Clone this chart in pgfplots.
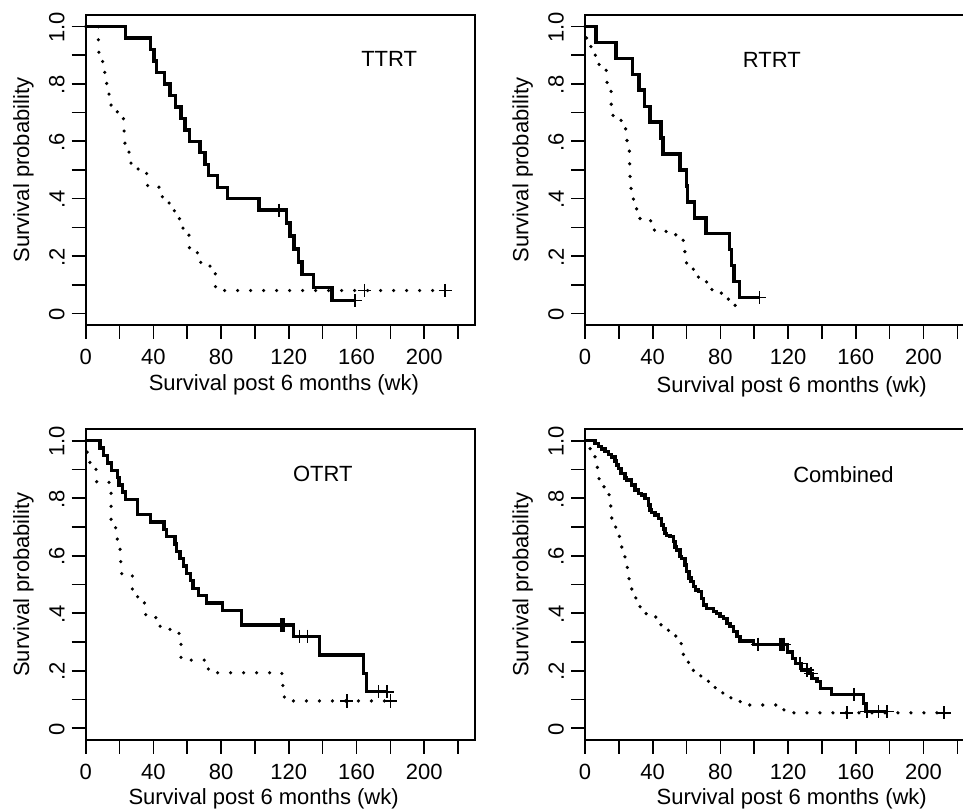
\documentclass[border=0pt]{standalone}
\usepackage{fontspec}
\setmainfont{Liberation Sans}
\usepackage{pgfplots}
\pgfplotsset{compat=1.18}

% one panel = R-style Kaplan-Meier plot, box 0..230 x -0.04..1.04
\pgfplotsset{
  kmpanel/.style={
    scale only axis, width=194.65pt, height=155pt,
    xmin=0, xmax=230, ymin=-0.04, ymax=1.04,
    tick pos=left, tick align=outside,
    major tick length=7pt, minor tick length=7pt,
    tick style={black, line width=0.8pt},
    axis line style={line width=0.8pt},
    xtick={0,40,80,120,160,200}, xticklabels={0,40,80,120,160,200},
    minor xtick={20,60,100,140,180,220},
    ytick={0,0.2,0.4,0.6,0.8,1}, yticklabels={0,.2,.4,.6,.8,1.0},
    minor ytick={0.1,0.3,0.5,0.7,0.9},
    yticklabel style={rotate=90, anchor=south, xshift=-0.5pt},
    xticklabel style={yshift=-1.5pt},
    font=\fontsize{11}{13}\selectfont,
    xlabel={Survival post 6 months (wk)},
    ylabel={Survival probability},
    ylabel style={at={(axis description cs:-0.16,0.5)}, anchor=center},
    clip=false,
    /pgf/number format/assume math mode=true,
  },
  km/.style={const plot, black, line width=1.7pt, mark=none},
  ref/.style={const plot, black, line width=1.8pt, line cap=round, dash pattern=on 0pt off 6.5pt, mark=none},
  cens/.style={only marks, black, mark=+, mark size=3.3pt, mark options={line width=0.8pt, solid}},
}

\begin{document}
\begin{tikzpicture}
\path[use as bounding box] (0,0) rectangle (481.5pt,404.5pt);
\clip (0,0) rectangle (481.5pt,404.5pt);

% ---------------- TTRT
\begin{axis}[kmpanel, at={(42.85pt,242pt)},
  xlabel style={at={(axis description cs:0.509,-0.194)}, anchor=center}]
\addplot[ref] coordinates {
 (0,1.0) (7.5,0.95) (7.6,0.91) (10.0,0.875) (10.8,0.84) (12.4,0.80) (13.8,0.76)
 (15.0,0.72) (18.7,0.70) (22.3,0.675) (22.7,0.63) (23.2,0.59) (25.6,0.555)
 (26.8,0.52) (31.0,0.50) (36.0,0.48) (36.6,0.44) (45.3,0.40) (49.3,0.375)
 (52.4,0.35) (55.4,0.32) (57.5,0.29) (61.0,0.26) (61.3,0.22) (66.0,0.20)
 (68.0,0.165) (76.6,0.125) (76.7,0.08) (212.4,0.08)};
\addplot[cens] coordinates {(164.7,0.08) (212.4,0.08)};
\addplot[km] coordinates {
 (0,1.0) (23.6,0.96) (38.4,0.92) (40.4,0.88) (42.0,0.84) (46.5,0.80) (49.8,0.76)
 (53.2,0.72) (56.3,0.68) (58.7,0.64) (61.3,0.60) (67.6,0.56) (70.5,0.52)
 (72.7,0.48) (78.0,0.44) (83.9,0.40) (102.5,0.36) (118.8,0.315) (120.8,0.27)
 (123.1,0.225) (125.7,0.18) (127.7,0.135) (134.6,0.09) (145.4,0.045) (159.2,0.045)};
\addplot[cens] coordinates {(114.3,0.36) (159.2,0.045)};
\node at (axis cs:179.3,0.886) {TTRT};
\end{axis}

% ---------------- RTRT
\begin{axis}[kmpanel, at={(292.5pt,242pt)},
  xlabel style={at={(axis description cs:0.531,-0.199)}, anchor=center}]
\addplot[ref] coordinates {
 (0,1.0) (0.5,0.96) (3.0,0.93) (6.0,0.90) (8.3,0.866) (12.5,0.84) (12.8,0.805)
 (15.4,0.77) (15.5,0.727) (16.4,0.69) (21.3,0.668) (24.0,0.64) (24.8,0.60)
 (26.2,0.558) (26.4,0.514) (26.6,0.47) (27.2,0.43) (28.6,0.39) (30.5,0.357)
 (32.5,0.323) (41.0,0.286) (53.6,0.262) (58.0,0.244) (59.0,0.203) (60.0,0.163)
 (64.0,0.143) (67.0,0.11) (75.0,0.071) (84.7,0.035) (88.7,0.013) (90.0,0.013)};
\addplot[km] coordinates {
 (0,1.0) (6.6,0.944) (18.2,0.889) (28.2,0.833) (31.8,0.778) (35.2,0.722)
 (38.5,0.667) (45.0,0.611) (46.0,0.556) (56.2,0.50) (60.1,0.444) (60.6,0.389)
 (64.8,0.333) (71.5,0.278) (85.2,0.222) (86.6,0.167) (88.0,0.111) (91.2,0.056)
 (103.0,0.056)};
\addplot[cens] coordinates {(103.0,0.056)};
\node at (axis cs:110.4,0.883) {RTRT};
\end{axis}

% ---------------- OTRT
\begin{axis}[kmpanel, at={(42.85pt,34.6pt)}, height=155.3pt,
  xlabel style={at={(axis description cs:0.457,-0.19)}, anchor=center}]
\addplot[ref] coordinates {
 (0,1.0) (0.6,0.96) (2.5,0.923) (6.1,0.898) (6.5,0.855) (15.0,0.72) (17.7,0.693)
 (18.7,0.651) (20.3,0.616) (20.7,0.576) (21.3,0.531) (27.6,0.477) (30.7,0.45)
 (34.7,0.428) (35.5,0.385) (44.0,0.347) (49.8,0.33) (55.8,0.319) (56.3,0.237)
 (72.5,0.193) (115.9,0.171) (116.5,0.13) (117.4,0.095) (180.0,0.095)};
\addplot[cens] coordinates {(154.3,0.095) (180.0,0.095)};
\addplot[km] coordinates {
 (0,1.0) (8.5,0.974) (10.4,0.949) (13.0,0.923) (15.4,0.897) (18.7,0.872)
 (19.7,0.846) (21.7,0.821) (23.6,0.795) (30.5,0.744) (38.4,0.718) (46.3,0.692)
 (47.9,0.667) (52.8,0.641) (53.5,0.615) (55.8,0.590) (57.7,0.564) (59.5,0.538)
 (62.0,0.513) (63.3,0.487) (66.6,0.462) (71.5,0.436) (80.8,0.410) (92.2,0.359)
 (122.7,0.32) (138.1,0.255) (164.1,0.19) (166.0,0.127) (178.0,0.127)};
\addplot[cens] coordinates {(115.5,0.359) (116.5,0.359) (117.5,0.359)
 (126.3,0.32) (131.0,0.32) (173.0,0.127) (178.0,0.127)};
\node at (axis cs:140.1,0.883) {OTRT};
\end{axis}

% ---------------- Combined
\begin{axis}[kmpanel, at={(292.5pt,34.6pt)}, height=155.3pt,
  xlabel style={at={(axis description cs:0.531,-0.19)}, anchor=center}]
\addplot[ref] coordinates {
 (0,1.0) (3.0,0.968) (5.9,0.939) (7.3,0.904) (8.3,0.866) (11.2,0.837) (14.2,0.808)
 (15.2,0.767) (15.8,0.724) (18.1,0.693) (20.3,0.658) (21.7,0.62) (23.6,0.587)
 (25.0,0.553) (26.0,0.513) (27.6,0.475) (30.0,0.444) (32.5,0.414) (36.1,0.388)
 (41.8,0.376) (44.9,0.35) (49.3,0.328) (53.6,0.309) (56.8,0.28) (58.1,0.243)
 (61.1,0.214) (64.0,0.188) (68.4,0.166) (72.9,0.148) (76.9,0.124) (81.4,0.106)
 (86.7,0.093) (92.6,0.081) (117.5,0.054) (212.1,0.054)};
\addplot[cens] coordinates {(154.7,0.054) (212.1,0.054)};
\addplot[km] coordinates {
 (0,1.0) (5.9,0.991) (7.9,0.979) (9.9,0.971) (11.8,0.962) (13.8,0.953) (15.8,0.944)
 (17.7,0.929) (18.7,0.915) (19.7,0.904) (21.3,0.887) (23.6,0.871) (24.6,0.863)
 (27.6,0.846) (29.6,0.829) (31.5,0.817) (33.5,0.811) (35.5,0.80) (37.4,0.776)
 (38.4,0.759) (39.4,0.751) (41.4,0.742) (43.4,0.730) (45.3,0.707) (46.3,0.693)
 (47.3,0.678) (48.3,0.670) (50.3,0.666) (52.2,0.649) (53.2,0.631) (54.2,0.620)
 (56.2,0.597) (57.1,0.591) (59.1,0.568) (60.1,0.545) (61.5,0.522) (62.7,0.510)
 (64.0,0.493) (65.4,0.481) (67.0,0.475) (69.0,0.452) (70.0,0.429) (71.9,0.417)
 (75.9,0.406) (77.8,0.400) (79.8,0.388) (81.8,0.382) (83.8,0.365) (85.7,0.353)
 (87.7,0.336) (89.7,0.319) (91.6,0.304) (99.5,0.292) (119.8,0.266) (122.5,0.243)
 (124.5,0.226) (128.0,0.203) (133.0,0.191) (134.0,0.174) (137.0,0.162)
 (139.0,0.139) (145.5,0.118) (164.5,0.087) (166.0,0.058) (179.0,0.058)};
\addplot[cens] coordinates {(102.1,0.292) (114.8,0.292) (115.8,0.292) (116.8,0.292)
 (117.8,0.292) (127.1,0.226) (131.1,0.203) (133.5,0.191) (159.0,0.118)
 (166.5,0.058) (173.4,0.058) (178.4,0.058)};
\node at (axis cs:152.7,0.883) {Combined};
\end{axis}
\end{tikzpicture}
\end{document}
